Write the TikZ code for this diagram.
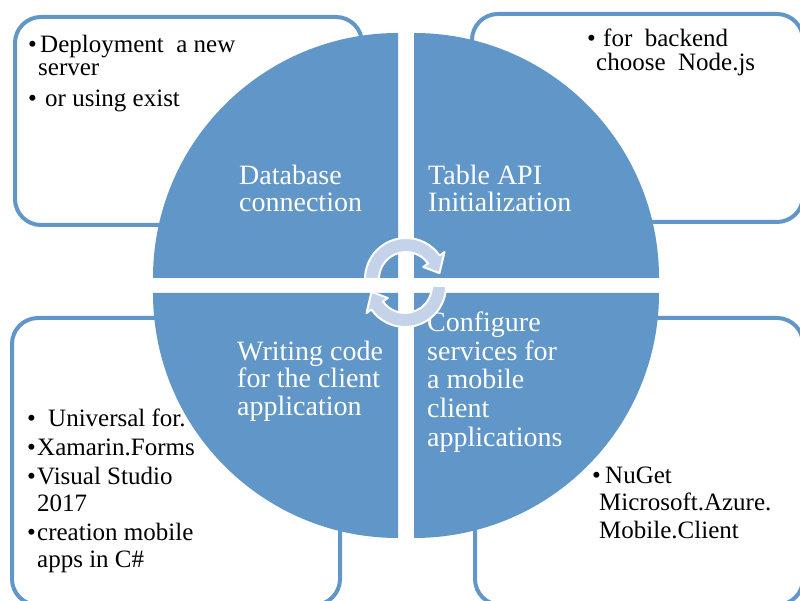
\documentclass[tikz,border=0pt]{standalone}
\usepackage{fontspec}
\setmainfont{Liberation Serif}
\definecolor{qblue}{RGB}{97,150,200}
\definecolor{qarrow}{RGB}{196,211,233}
\begin{document}
\begin{tikzpicture}
	[x=1pt,y=-1pt,
	infobox/.style={draw=qblue,line width=4pt,rounded corners=26pt},
	quarter/.style={fill=qblue},
	txt/.style={anchor=base west,inner sep=0pt,text height=0.68em,text depth=0.19em,font=\fontsize{25}{27}\selectfont},
	ctxt/.style={anchor=base west,inner sep=0pt,text height=0.68em,text depth=0.19em,text=white,font=\fontsize{28}{28}\selectfont},
	cyclearrow/.style={fill=qarrow,draw=white,line width=2pt,line join=round}]
	\useasboundingbox (0,0) rectangle (800,601);
	\clip (0,0) rectangle (800,601);

	\draw[infobox] (15,17) rectangle (362,225);
	\draw[infobox] (472,14) rectangle (803,222);
	\draw[infobox] (12,318) rectangle (340,605);
	\draw[infobox] (475,318) rectangle (803,605);

	\foreach \x/\y/\t [count=\i] in {28/53/\textbullet, 40/53/{Deployment\ \ a new}, 38/76/server, 28/107/\textbullet, 45/107/{or using exist}}
	\node[txt] (dbnote\i) at (\x,\y) {\t};
	\foreach \x/\y/\t [count=\i] in {587/47/\textbullet, 603/47/{for\ \ backend}, 596/71/{choose\ \ Node.js}}
	\node[txt] (apinote\i) at (\x,\y) {\t};
	\foreach \x/\y/\t [count=\i] in {27/426/\textbullet, 48/426/{Universal for.}, 27/455/\textbullet, 37/455/Xamarin.Forms, 27/484/\textbullet, 37/484/{Visual Studio}, 37/511/2017, 27/540/\textbullet, 37/540/{creation mobile}, 37/567/{apps in C\#}}
	\node[txt] (codenote\i) at (\x,\y) {\t};
	\foreach \x/\y/\t [count=\i] in {592/483/\textbullet, 605/483/NuGet, 599/510/Microsoft.Azure., 599/538/Mobile.Client}
	\node[txt] (cfgnote\i) at (\x,\y) {\t};

	\fill[quarter] (398,278) -- ++(-245,0) arc (180:270:245) -- cycle;
	\fill[quarter] (414,278) -- ++(0,-245) arc (270:360:245) -- cycle;
	\fill[quarter] (414,293) -- ++(245,0) arc (0:90:245) -- cycle;
	\fill[quarter] (398,293) -- ++(0,245) arc (90:180:245) -- cycle;

	\node[ctxt] (db1) at (239,185) {Database};
	\node[ctxt] (db2) at (239,212) {connection};
	\node[ctxt] (api1) at (428,185) {Table API};
	\node[ctxt] (api2) at (428,212) {Initialization};
	\node[ctxt] (code1) at (237,360) {Writing code};
	\node[ctxt] (code2) at (237,387) {for the client};
	\node[ctxt] (code3) at (237,415) {application};
	\foreach \y/\t [count=\i] in {332/Configure, 360/{services for}, 388/{a mobile}, 417/client, 446/applications}
	\node[ctxt] (cfg\i) at (427,\y) {\t};

	\begin{scope}[shift={(406,279)}]
	\draw[cyclearrow] (180:41) arc (180:325:41) -- (325:47) -- (350:34) -- (325:21) -- (325:27) arc (325:180:27) -- cycle;
	\end{scope}
	\begin{scope}[shift={(405,286)}]
	\draw[cyclearrow] (0:41) arc (0:145:41) -- (145:47) -- (170:34) -- (145:21) -- (145:27) arc (145:0:27) -- cycle;
	\end{scope}
\end{tikzpicture}
\end{document}
